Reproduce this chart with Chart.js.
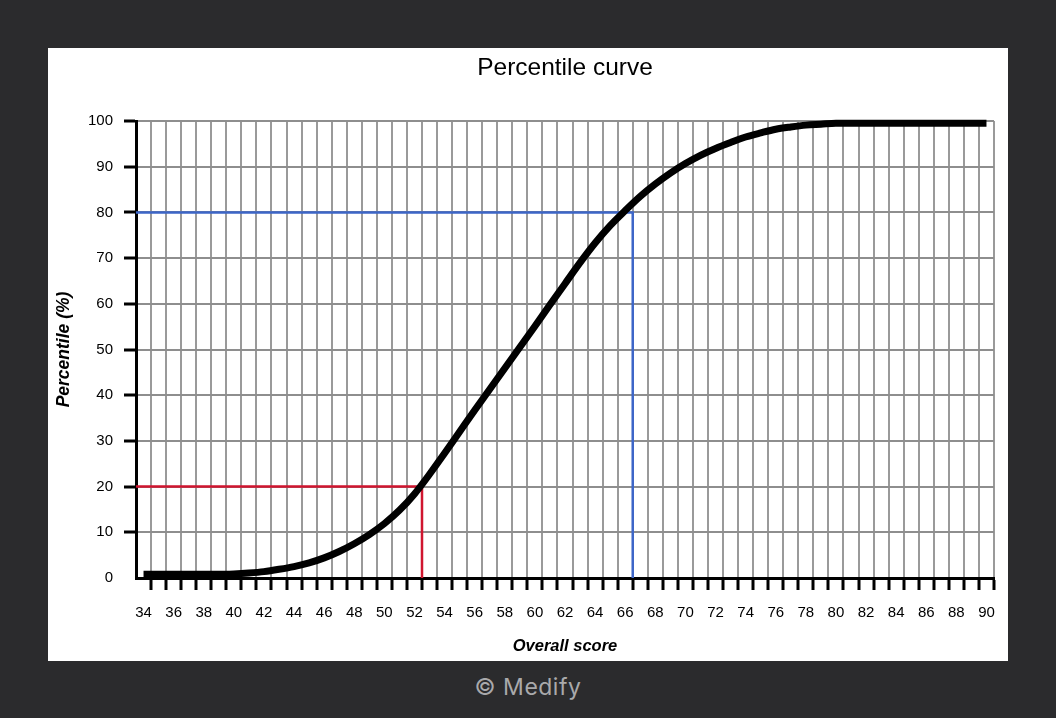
<!DOCTYPE html>
<html>
<head>
<meta charset="utf-8">
<script src="https://cdn.jsdelivr.net/npm/chart.js@4.4.1/dist/chart.umd.min.js"></script>
<style>
  html, body { margin: 0; padding: 0; background: #2b2b2d; width: 1056px; height: 718px; overflow: hidden; }
  #panel { position: absolute; left: 48px; top: 48px; width: 960px; height: 613px; background: #ffffff; }
  #credit { position: absolute; left: 0; width: 1056px; top: 673px; text-align: center;
            font-family: "Inter", "DejaVu Sans", sans-serif; font-size: 23px; color: #a9a9ab; letter-spacing: 0.5px; }
</style>
</head>
<body>
<div id="panel"><canvas id="c" width="960" height="613"></canvas></div>
<div id="credit">© Medify</div>
<script>
// ---- data ----
const scores = [34,35,36,37,38,39,40,41,42,43,44,45,46,47,48,49,50,51,52,53,54,55,56,57,58,59,60,61,62,
                63,64,65,66,67,68,69,70,71,72,73,74,75,76,77,78,79,80,81,82,83,84,85,86,87,88,89,90];
const percentiles = [0.8,0.8,0.8,0.8,0.8,0.8,0.9,1.1,1.4,1.9,2.5,3.3,4.4,5.8,7.5,9.5,11.9,14.8,18.4,22.7,27.3,
                32.0,36.7,41.3,45.9,50.5,55.1,59.8,64.4,69.0,73.3,77.1,80.4,83.5,86.2,88.6,90.7,92.5,94.0,
                95.3,96.5,97.4,98.2,98.7,99.1,99.3,99.5,99.5,99.5,99.5,99.5,99.5,99.5,99.5,99.5,99.5,99.5];
const refScores = [52.5, 66.5];       // red, blue
const refPercentiles = [20, 80];
const xLabelTicks = [34,36,38,40,42,44,46,48,50,52,54,56,58,60,62,64,66,68,70,72,74,76,78,80,82,84,86,88,90];
const yTicks = [0,10,20,30,40,50,60,70,80,90,100];
const scoreMin = 33.5, scoreMax = 90.5;

const FONT = "'Liberation Sans', Arial, Helvetica, sans-serif";

const curveData = scores.map((s, i) => ({x: s, y: percentiles[i]}));
const refData = refScores.map((s, i) => [
  {x: scoreMin, y: refPercentiles[i]}, {x: s, y: refPercentiles[i]}, {x: s, y: 0}
]);
const boundaryTicks = [];
for (let v = scoreMin + 1; v <= scoreMax + 0.001; v += 1) boundaryTicks.push({value: v});

new Chart(document.getElementById('c'), {
  type: 'line',
  data: {
    datasets: [
      { data: curveData, borderColor: '#000', borderWidth: 7, pointRadius: 0,
        cubicInterpolationMode: 'monotone', clip: 12, xAxisID: 'x', yAxisID: 'y' },
      { data: refData[0], borderColor: '#d0152f', borderWidth: 2.5, pointRadius: 0, tension: 0,
        xAxisID: 'x', yAxisID: 'y' },
      { data: refData[1], borderColor: '#3d66c8', borderWidth: 2.5, pointRadius: 0, tension: 0,
        xAxisID: 'x', yAxisID: 'y' }
    ]
  },
  options: {
    responsive: false,
    animation: false,
    events: [],
    layout: { padding: { left: 0, right: 14, top: 0, bottom: 0 } },
    plugins: {
      legend: { display: false },
      tooltip: { enabled: false },
      title: {
        display: true, text: 'Percentile curve', fullSize: false, color: '#000',
        font: { family: FONT, size: 24.5, weight: 'normal' },
        padding: { top: 5.8, bottom: 37.8 }
      }
    },
    scales: {
      x: {
        type: 'linear', position: 'bottom', weight: 1, min: scoreMin, max: scoreMax,
        afterBuildTicks: (s) => { s.ticks = boundaryTicks.map(t => ({value: t.value})); },
        afterFit: (s) => { s.height = 12; },
        ticks: { display: false },
        grid: { color: '#9a9a9a', lineWidth: 2, drawTicks: true, tickLength: 12,
                tickColor: '#000', tickWidth: 3 },
        border: { display: true, color: '#000', width: 3 }
      },
      x2: {
        type: 'linear', position: 'bottom', weight: 2, min: scoreMin, max: scoreMax,
        afterBuildTicks: (s) => { s.ticks = xLabelTicks.map(v => ({value: v})); },
        afterFit: (s) => { s.height = 71; },
        grid: { display: false },
        border: { display: false },
        ticks: { color: '#000', padding: 6, autoSkip: false, maxRotation: 0,
                 font: { family: FONT, size: 15 }, callback: (v) => String(v) },
        title: { display: true, text: 'Overall score', color: '#000',
                 font: { family: FONT, size: 16.5, weight: 'bold', style: 'italic' },
                 padding: { top: 0, bottom: 4.6 } }
      },
      y: {
        type: 'linear', position: 'left', min: 0, max: 100,
        afterBuildTicks: (s) => { s.ticks = yTicks.map(v => ({value: v})); },
        afterFit: (s) => { s.width = 88; },
        ticks: { color: '#000', padding: 11, font: { family: FONT, size: 15 } },
        grid: { color: '#8e8e8e', lineWidth: 2, drawTicks: true, tickLength: 12, tickWidth: 3,
                tickColor: (ctx) => (ctx.tick && ctx.tick.value === 0) ? 'rgba(0,0,0,0)' : '#000' },
        border: { display: true, color: '#000', width: 3 },
        title: { display: true, text: 'Percentile (%)', color: '#000',
                 font: { family: FONT, size: 17.5, weight: 'bold', style: 'italic' },
                 padding: { top: 5.5, bottom: 0 } }
      }
    }
  }
});
</script>
</body>
</html>
